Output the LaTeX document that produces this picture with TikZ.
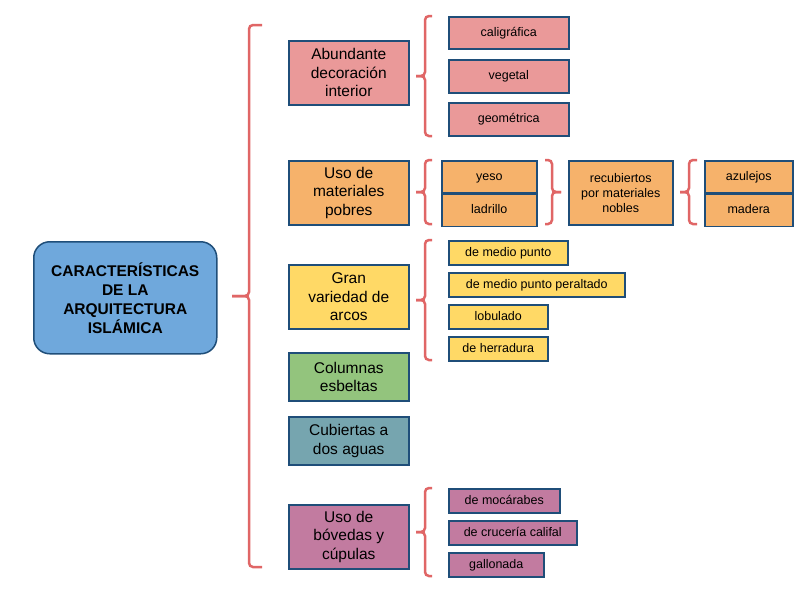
\documentclass[tikz,border=0pt]{standalone}
\usepackage{fontspec}
\setmainfont{Liberation Sans}
\usetikzlibrary{positioning}
\definecolor{mapblue}{HTML}{6FA8DC}
\definecolor{mapline}{HTML}{1F4E79}
\definecolor{mapred}{HTML}{E06666}
\definecolor{catpink}{HTML}{EA9999}
\definecolor{catorange}{HTML}{F6B26B}
\definecolor{catyellow}{HTML}{FFD966}
\definecolor{catgreen}{HTML}{93C47D}
\definecolor{catteal}{HTML}{76A5AF}
\definecolor{catmauve}{HTML}{C27BA0}
% brace: tip x, spine x, arm x, top y, bottom y
\newcommand{\groupbrace}[5]{%
  \draw[bracket] (#3,#4) -- (#2,#4) -- (#2,{(#4+#5)/2}) -- (#1,{(#4+#5)/2});
  \draw[bracket] (#3,#5) -- (#2,#5) -- (#2,{(#4+#5)/2}) -- (#1,{(#4+#5)/2});}

\begin{document}
\begin{tikzpicture}[x=1pt,y=-1pt,
    box/.style={draw=mapline,line width=1.5pt,anchor=north west,inner sep=0pt,
      text=black},
    cat/.style={box,align=center,minimum width=120pt,minimum height=64pt,
      font=\fontsize{15.5}{18.5}\selectfont},
    sub/.style={box,minimum height=24pt,font=\fontsize{12.5}{15}\selectfont,
      text height=9pt,text depth=2.5pt},
    bracket/.style={draw=mapred,line width=2.5pt,rounded corners=4pt}]
  \fill[white] (0,0) rectangle (800,600);
  \useasboundingbox (0,0) rectangle (800,600);

  % root
  \node[box,align=center,rounded corners=16pt,fill=mapblue,minimum width=183pt,minimum height=112pt,
    font=\fontsize{15.5}{19}\selectfont\bfseries] (root) at (33,241)
    {CARACTERÍSTICAS\\DE LA\\ARQUITECTURA\\ISLÁMICA};
  \groupbrace{232}{249}{262}{25}{567}

  % categories
  \node[cat,fill=catpink] (abund) at (288,40) {Abundante\\decoración\\interior};
  \node[cat,fill=catorange] (pobres) at (288,160) {Uso de\\materiales\\pobres};
  \node[cat,fill=catyellow] (arcos) at (288,264) {Gran\\variedad de\\arcos};
  \node[cat,fill=catgreen,minimum height=48pt] (colum) at (288,352) {Columnas\\esbeltas};
  \node[cat,fill=catteal,minimum height=48pt] (cubier) at (288,416) {Cubiertas a\\dos aguas};
  \node[cat,fill=catmauve] (boved) at (288,504) {Uso de\\bóvedas y\\cúpulas};

  % decoración
  \node[sub,fill=catpink,minimum width=120pt,minimum height=32pt] (calig) at (448,16) {caligráfica};
  \node[sub,fill=catpink,minimum width=120pt,minimum height=33pt] (veget) at (448,59) {vegetal};
  \node[sub,fill=catpink,minimum width=120pt,minimum height=33pt] (geom) at (448,102) {geométrica};
  \groupbrace{416}{425}{432}{16}{136}

  % materiales
  \node[sub,fill=catorange,minimum width=95pt,minimum height=32pt] (yeso) at (441,160) {yeso};
  \node[sub,fill=catorange,minimum width=95pt,minimum height=32pt,below=0pt of yeso] (ladri) {ladrillo};
  \node[box,align=center,fill=catorange,minimum width=104pt,minimum height=64pt,
    font=\fontsize{12.5}{15}\selectfont] (recub) at (568,160)
    {recubiertos\\por materiales\\nobles};
  \node[sub,fill=catorange,minimum width=88pt,minimum height=32pt] (azul) at (704,160) {azulejos};
  \node[sub,fill=catorange,minimum width=88pt,minimum height=32pt,below=0pt of azul] (mader) {madera};
  \groupbrace{416}{425}{432}{160}{224}
  \groupbrace{561}{552}{545}{160}{224}
  \groupbrace{680}{689}{697}{160}{224}

  % arcos
  \node[sub,fill=catyellow,minimum width=119pt] (medio) at (448,240) {de medio punto};
  \node[sub,fill=catyellow,minimum width=176pt] (peralt) at (448,272) {de medio punto peraltado};
  \node[sub,fill=catyellow,minimum width=99pt] (lobul) at (448,304) {lobulado};
  \node[sub,fill=catyellow,minimum width=99pt] (herrad) at (448,336) {de herradura};
  \groupbrace{416}{425}{432}{240}{360}

  % bóvedas
  \node[sub,fill=catmauve,minimum width=111pt] (mocar) at (448,488) {de mocárabes};
  \node[sub,fill=catmauve,minimum width=128pt] (cruce) at (448,520) {de crucería califal};
  \node[sub,fill=catmauve,minimum width=95pt] (gallo) at (448,552) {gallonada};
  \groupbrace{416}{425}{432}{488}{576}
\end{tikzpicture}
\end{document}
